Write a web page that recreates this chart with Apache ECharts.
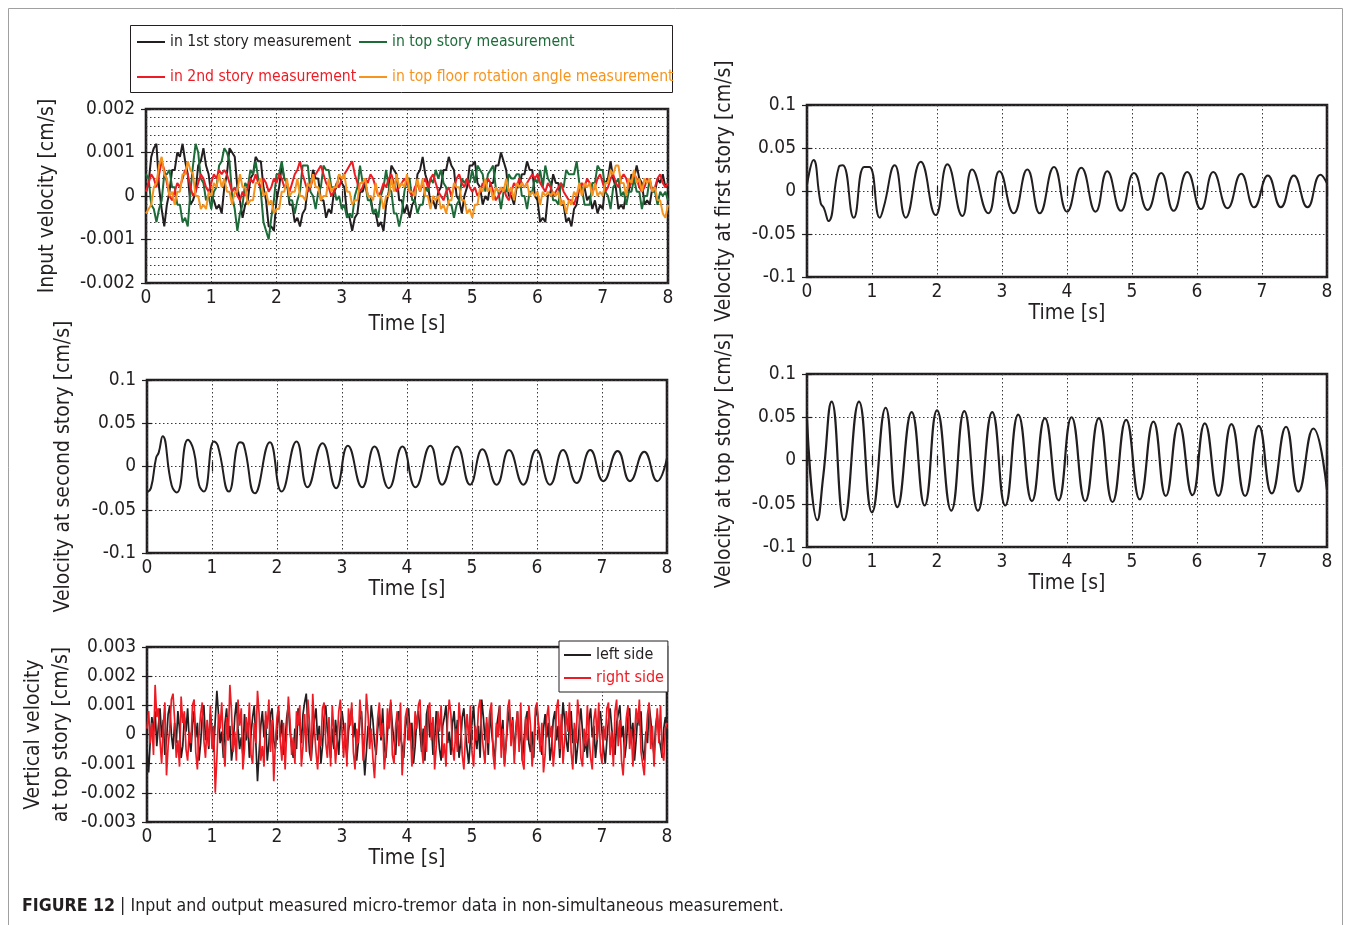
<!DOCTYPE html>
<html><head><meta charset="utf-8">
<script src="https://cdn.jsdelivr.net/npm/echarts/dist/echarts.min.js"></script>
<style>html,body{margin:0;padding:0;background:#fff}#c{width:1352px;height:925px}</style>
</head><body><div id="c"></div>
<script>
// ---------- DATA ----------
// Panel 1: input velocity, sampled every 0.04 s, values in units of 1e-4 cm/s
const inputDt = 0.04;
const firstStoryInput = [
1,3,9,11,12,2,-3,-7,-2,1,6,6,10,9,12,8,5,-2,-1,1,7,8,11,7,5,
0,-1,-3,-2,-4,2,5,11,10,9,2,-1,-5,-2,-1,4,5,9,8,8,2,-1,-7,-7,-8,
-1,2,7,4,3,-2,-2,-6,-5,-7,-4,-3,2,2,6,4,4,-1,-1,-5,-3,-4,1,2,5,
3,2,-4,-5,-8,-5,-4,1,1,3,0,0,-4,-4,-7,-6,-8,-2,1,7,6,5,-1,-1,-4,
-2,-5,-2,-1,5,6,9,5,3,-2,-1,-3,1,2,6,6,9,7,6,0,-1,-4,0,2,7,
7,8,3,2,-2,0,-1,3,3,7,7,10,8,6,0,0,-2,2,2,5,5,8,6,6,0,
-1,-6,-5,-6,0,1,5,3,3,-2,-2,-6,-5,-7,-3,-2,2,1,2,-1,0,-3,-1,-4,-2,
-3,3,4,8,4,2,-3,-2,-3,1,1,5,4,7,4,3,-2,-1,-2,2,1,4,3,5,2,
3];
const topStoryInput = [
5,4,-2,-3,-6,-3,-1,5,5,6,2,2,-2,-2,-6,-5,-7,1,7,12,10,4,3,-1,0,
-3,1,2,7,8,11,10,8,0,-3,-8,-4,-2,3,2,6,5,8,4,1,-6,-8,-10,-5,-1,
5,5,8,4,3,-1,-1,-4,-1,1,7,7,7,1,0,-3,1,2,7,6,6,2,2,-1,0,
-3,-2,-5,-4,-5,0,2,7,3,3,-1,-1,-4,-3,-5,0,2,6,2,1,-4,-4,-7,-4,1,
4,4,-1,-1,-4,-2,-2,2,1,4,3,6,4,6,3,2,-2,-2,-5,-2,-1,4,3,4,3,
6,3,7,6,5,1,5,6,7,2,1,-3,1,1,5,4,4,5,5,0,0,-3,1,1,4,
3,6,2,7,4,3,-1,-1,-2,3,2,6,5,5,5,8,3,2,-2,-2,-2,3,3,7,6,
6,1,0,-3,2,3,4,0,1,-2,1,1,4,1,1,-3,0,0,4,1,1,-2,1,0,1,
-1];
const secondStoryInput = [
1,3,5,4,2,5,8,6,3,0,-1,1,3,2,4,6,5,2,0,1,3,5,4,2,1,
3,5,4,6,5,6,5,3,1,2,0,-1,1,0,2,4,3,5,3,2,4,3,1,2,4,
3,5,4,2,3,1,3,5,6,8,5,3,1,2,4,5,6,7,5,3,2,0,1,3,2,
4,5,6,7,8,5,3,1,2,4,3,5,4,2,0,1,3,2,4,5,3,1,2,3,4,
3,1,0,2,3,1,3,4,2,4,5,3,1,0,-1,1,2,0,2,4,5,3,2,4,2,
1,2,0,1,3,2,4,3,1,-1,0,1,2,0,-1,1,3,2,4,3,2,3,4,5,4,
5,3,2,1,3,2,0,1,2,3,1,0,-1,-1,-2,0,2,3,2,4,3,1,2,4,5,
3,1,2,4,5,3,2,4,5,4,2,3,5,4,2,1,2,4,3,1,2,4,5,3,2,
3];
const rotationInput = [
-4,-3,-2,2,3,7,9,5,4,0,1,-2,1,1,5,5,8,6,5,0,0,-3,-2,-3,1,
0,3,2,5,2,4,1,1,-2,1,1,5,2,2,-2,-1,-1,3,3,4,0,1,-2,-1,-4,
-3,-3,1,1,4,0,1,1,4,0,0,-1,3,2,5,2,2,-1,0,0,4,1,2,2,5,
4,5,1,1,-2,-1,-1,3,3,4,0,0,-1,3,0,0,-3,0,0,4,1,5,2,3,2,
5,1,1,0,4,1,4,0,0,-3,0,-1,0,-3,-2,-4,-1,-1,3,2,2,-1,-1,-4,-3,
-5,-2,-2,2,1,4,1,2,-1,2,1,2,1,4,1,2,-1,3,2,3,2,3,0,1,0,
1,-2,1,0,1,0,1,0,1,-2,-1,-4,-1,-2,1,0,3,0,3,2,3,0,3,0,1,
0,3,3,6,5,7,7,3,3,0,4,3,6,3,4,1,4,3,4,1,2,-1,-1,-4,-5,
-2];

// Panels 2-4: velocity extrema (time s, velocity cm/s)
const firstStoryT = [0,0.10,0.21,0.26,0.33,0.49,0.55,0.72,0.88,0.96,1.12,1.18,1.35,1.52,1.75,1.98,2.16,2.39,2.54,2.79,2.96,3.18,3.39,3.58,3.80,4.00,4.22,4.44,4.62,4.83,5.03,5.24,5.45,5.64,5.85,6.06,6.25,6.47,6.68,6.88,7.09,7.29,7.49,7.70,7.90,8.00];
const firstStoryV = [0.007,0.036,-0.014,-0.020,-0.035,0.028,0.030,-0.031,0.028,0.028,-0.031,-0.019,0.030,-0.031,0.034,-0.028,0.031,-0.029,0.025,-0.026,0.023,-0.026,0.025,-0.026,0.028,-0.024,0.027,-0.024,0.023,-0.023,0.021,-0.022,0.021,-0.023,0.022,-0.021,0.022,-0.020,0.020,-0.019,0.018,-0.019,0.018,-0.019,0.019,0.009];

const secondStoryT = [0,0.06,0.14,0.18,0.24,0.38,0.46,0.63,0.72,0.80,0.875,1.03,1.09,1.26,1.43,1.49,1.66,1.89,2.07,2.30,2.47,2.70,2.91,3.09,3.31,3.50,3.72,3.93,4.13,4.36,4.54,4.77,4.97,5.16,5.38,5.57,5.79,5.99,6.20,6.40,6.61,6.82,7.02,7.24,7.43,7.65,7.85,8.00];
const secondStoryV = [-0.030,-0.025,0.010,0.016,0.035,-0.022,-0.030,0.031,0.018,-0.021,-0.029,0.029,0.024,-0.029,0.028,0.025,-0.031,0.028,-0.029,0.029,-0.024,0.027,-0.025,0.024,-0.024,0.023,-0.025,0.023,-0.024,0.024,-0.021,0.023,-0.021,0.020,-0.021,0.019,-0.021,0.019,-0.021,0.019,-0.019,0.019,-0.017,0.018,-0.017,0.017,-0.017,0.010];

const topStoryT = [0,0.16,0.25,0.38,0.57,0.80,1.00,1.21,1.39,1.61,1.81,2.00,2.22,2.42,2.63,2.85,3.05,3.25,3.46,3.66,3.87,4.07,4.28,4.49,4.70,4.91,5.12,5.33,5.52,5.72,5.93,6.12,6.33,6.53,6.74,6.95,7.15,7.37,7.56,7.79,8.00];
const topStoryV = [0.047,-0.069,-0.018,0.068,-0.069,0.068,-0.060,0.061,-0.054,0.056,-0.052,0.058,-0.058,0.057,-0.058,0.056,-0.052,0.053,-0.047,0.049,-0.046,0.050,-0.047,0.049,-0.048,0.047,-0.045,0.045,-0.041,0.043,-0.040,0.043,-0.041,0.042,-0.041,0.040,-0.038,0.039,-0.036,0.037,-0.034];

// Panel 5: vertical velocity at top story, sampled every 0.025 s, units of 1e-4 cm/s
const verticalDt = 0.025;
const leftSide = [
-5,-13,-2,6,1,8,-4,3,9,-1,5,-7,-2,7,10,0,-5,4,-3,8,2,-8,-4,6,1,9,-2,-6,3,8,-1,4,-9,-3,6,10,-2,2,-5,7,
2,-6,5,15,7,-3,1,-8,4,9,-2,3,-9,-4,6,11,2,-5,-1,-7,7,-2,4,-8,0,6,10,-3,-16,-6,3,8,-1,5,-9,-3,7,9,-2,-5,
3,8,-1,5,-7,-2,6,10,1,-4,-8,2,-5,9,4,-3,7,11,14,3,-6,-9,-1,5,9,-2,3,-10,-4,6,10,1,-3,-8,2,-5,5,-1,-7,4,
8,3,-2,-8,1,6,9,-1,4,-9,-3,5,8,-4,-14,-6,3,-1,10,5,-3,-7,2,7,-2,9,-4,-8,1,6,11,3,-2,-7,4,8,-1,-4,-8,2,
6,9,-2,4,-10,-4,5,8,1,-6,2,-9,7,10,-1,4,-7,-2,8,2,-5,-9,3,6,10,-3,1,-7,4,8,-2,5,-8,-3,6,9,1,-5,-10,-2,
4,10,-1,-5,3,-8,12,6,-2,4,-7,8,1,-4,-9,2,6,10,-3,5,-10,-3,4,9,-1,6,-7,2,8,-4,3,-9,-2,5,8,-3,-6,1,-8,6,
9,3,-3,-7,2,7,-1,4,-9,-4,5,8,-2,3,-8,1,11,5,-2,-6,4,8,-3,2,-10,-4,3,9,1,-6,-2,-8,5,9,-1,3,-8,-2,6,8,
1,-5,-10,-2,5,9,2,-3,-7,4,7,10,-1,3,-8,-3,6,9,-2,4,-9,-2,7,3,8,-5,-9,1,-3,10,5,-2,-7,3,7,-1,-4,-8,2,6,
3];
const rightSide = [
2,8,-3,4,-7,17,6,9,-2,-10,3,11,-14,-4,2,12,14,5,-8,-2,-11,13,4,8,-5,-9,1,-3,10,12,-6,-12,0,7,11,-2,-8,5,-4,10,
-5,3,-20,-8,7,2,11,-4,-11,6,-2,17,8,-6,1,-9,12,3,9,-12,-5,6,-1,11,-7,-10,4,-3,15,7,-9,-4,-11,8,2,12,-6,5,-16,-3,
6,10,-2,-9,4,-12,1,13,5,-7,-1,-10,8,3,10,-11,-4,7,-6,12,4,-9,14,2,-6,-12,0,-4,9,11,-3,-8,6,-11,10,1,-10,-2,8,12,
1,-8,4,-11,9,3,11,-6,-12,2,-3,12,5,-9,-2,14,7,-5,2,-8,-15,-3,6,11,-1,4,-12,-6,9,2,12,-7,-10,3,8,-4,11,-14,-5,6,
9,-2,4,-11,-5,8,2,10,12,-4,-10,3,-6,9,11,-2,6,-12,-4,8,1,10,-8,-3,-11,5,12,7,-4,-9,2,-6,11,4,-7,-12,0,7,-3,10,
-6,-11,3,-2,9,12,1,-5,-10,6,-3,8,11,-7,-12,4,-1,10,-8,2,-11,-3,9,12,-4,5,-10,1,8,-6,11,-9,-12,6,-2,10,3,-11,-4,9,
11,2,-6,4,-13,-7,6,10,-1,3,-11,-4,9,12,-5,7,-10,-2,8,1,11,-6,-12,4,-3,12,6,-8,-11,2,-4,10,-1,-8,-12,5,9,-2,11,-6,
-10,3,-2,9,11,-7,1,-11,8,12,-4,5,-9,-14,-3,6,10,-5,2,-11,-1,9,4,12,-6,-10,-14,-2,7,11,-5,3,-11,0,9,-3,10,-6,-9,2,
4];
const smallUnit = 1e-4;

const xLabel = 'Time [s]';
const yLabels = ['Input velocity [cm/s]','Velocity at first story [cm/s]','Velocity at second story [cm/s]','Velocity at top story [cm/s]','Vertical velocity\nat top story [cm/s]'];
const inputNames = ['in 1st story measurement','in top story measurement','in 2nd story measurement','in top floor rotation angle measurement'];
const verticalNames = ['left side','right side'];
const caption = 'Input and output measured micro-tremor data in non-simultaneous measurement.';

// ---------- CHART ----------
const FONT = '"Liberation Sans Narrow","DejaVu Sans Condensed","Arial Narrow",sans-serif';
const INK = '#231f20';
const C = {black:'#231f20', green:'#1d6b38', red:'#ed1c24', orange:'#f7941d'};

const grids = [
  {left:146, top:109, width:522, height:174},
  {left:807, top:105, width:520, height:172},
  {left:147, top:380, width:520, height:173},
  {left:807, top:374, width:520, height:173},
  {left:147, top:647, width:520, height:175}
];
const yRanges = [
  {min:-0.002, max:0.002, interval:0.001},
  {min:-0.1, max:0.1, interval:0.05},
  {min:-0.1, max:0.1, interval:0.05},
  {min:-0.1, max:0.1, interval:0.05},
  {min:-0.003, max:0.003, interval:0.001}
];
const yNameGaps = [84, 68, 69, 68, 71];
const xNameGaps = [31, 25, 25, 24, 23];

const dotted = {type:[1.5,2.5], color:'#3a3a3a', width:1};
const tickStyle = {color:INK, width:1.2};
const fmt = v => Math.abs(v) < 1e-12 ? '0' : String(+v.toFixed(4));
const TICK_FS = 19, NAME_FS = 21;

const xAxis = [], yAxis = [];
grids.forEach((g, i) => {
  xAxis.push({gridIndex:i, type:'value', min:0, max:8, interval:1, position:'bottom',
    axisLine:{show:false}, axisTick:{inside:true, length:5, lineStyle:tickStyle},
    axisLabel:{fontSize:TICK_FS, margin:6, color:INK, fontFamily:FONT},
    splitLine:{show:true, lineStyle:dotted},
    name:xLabel, nameLocation:'middle', nameGap:xNameGaps[i],
    nameTextStyle:{fontSize:NAME_FS, color:INK, fontFamily:FONT}});
  xAxis.push({gridIndex:i, type:'value', min:0, max:8, interval:1, position:'top',
    axisLine:{show:false}, axisTick:{inside:true, length:5, lineStyle:tickStyle},
    axisLabel:{show:false}, splitLine:{show:false}});
  const r = yRanges[i];
  const y = {gridIndex:i, type:'value', min:r.min, max:r.max, interval:r.interval, position:'left',
    axisLine:{show:false}, axisTick:{inside:true, length:5, lineStyle:tickStyle},
    axisLabel:{fontSize:TICK_FS, margin:11, color:INK, fontFamily:FONT, formatter:fmt},
    splitLine:{show:true, lineStyle:dotted},
    name:yLabels[i], nameLocation:'middle', nameGap:yNameGaps[i], nameRotate:90,
    nameTextStyle:{fontSize:NAME_FS, color:INK, fontFamily:FONT, lineHeight:28}};
  if (i === 0) {
    y.minorTick = {show:false, splitNumber:5};
    y.minorSplitLine = {show:true, lineStyle:dotted};
  }
  yAxis.push(y);
  yAxis.push({gridIndex:i, type:'value', min:r.min, max:r.max, interval:r.interval, position:'right',
    axisLine:{show:false}, axisTick:{inside:true, length:5, lineStyle:tickStyle},
    axisLabel:{show:false}, splitLine:{show:false}});
});

const sampled = (vals, dt) => vals.map((v, k) => [+(k*dt).toFixed(3), v*smallUnit]);
const paired = (ts, vs) => ts.map((t, k) => [t, vs[k]]);

const lineSeries = (name, data, grid, color, width, smooth) => ({
  name, type:'line', data, xAxisIndex:grid*2, yAxisIndex:grid*2, symbol:'none',
  smooth: smooth ? 0.5 : false, lineStyle:{color, width}, itemStyle:{color},
  emphasis:{disabled:true}, z:3
});

const series = [
  lineSeries(inputNames[0], sampled(firstStoryInput, inputDt), 0, C.black, 2, false),
  lineSeries(inputNames[1], sampled(topStoryInput, inputDt), 0, C.green, 2, false),
  lineSeries(inputNames[2], sampled(secondStoryInput, inputDt), 0, C.red, 2, false),
  lineSeries(inputNames[3], sampled(rotationInput, inputDt), 0, C.orange, 2, false),
  lineSeries('first story', paired(firstStoryT, firstStoryV), 1, C.black, 2, true),
  lineSeries('second story', paired(secondStoryT, secondStoryV), 2, C.black, 2, true),
  lineSeries('top story', paired(topStoryT, topStoryV), 3, C.black, 2.2, true),
  lineSeries(verticalNames[0], sampled(leftSide, verticalDt), 4, C.black, 1.7, false),
  lineSeries(verticalNames[1], sampled(rightSide, verticalDt), 4, C.red, 1.7, false)
];

const legendText = {fontSize:15.6, fontFamily:FONT, lineHeight:20};
const option = {
  animation:false,
  backgroundColor:'#fff',
  grid: grids.map(g => Object.assign({show:true, borderColor:INK, borderWidth:2.6, backgroundColor:'transparent', containLabel:false}, g)),
  xAxis, yAxis, series,
  legend: [
    {left:137, top:32, orient:'vertical', padding:0, itemGap:15, itemWidth:28, itemHeight:2, icon:'rect', selectedMode:false,
     textStyle:legendText,
     data:[{name:inputNames[0], textStyle:{color:C.black}}, {name:inputNames[2], textStyle:{color:C.red}}]},
    {left:359, top:32, orient:'vertical', padding:0, itemGap:15, itemWidth:28, itemHeight:2, icon:'rect', selectedMode:false,
     textStyle:legendText,
     data:[{name:inputNames[1], textStyle:{color:C.green}}, {name:inputNames[3], textStyle:{color:C.orange}}]},
    {left:559, top:641, orient:'vertical', padding:[4,4,4,5], itemGap:3, itemWidth:27, itemHeight:2, icon:'rect', selectedMode:false,
     backgroundColor:'#fff', borderColor:INK, borderWidth:1, z:10,
     textStyle:{fontSize:16, fontFamily:FONT, lineHeight:20},
     data:[{name:verticalNames[0], textStyle:{color:C.black}}, {name:verticalNames[1], textStyle:{color:C.red}}]}
  ],
  graphic: [
    {type:'rect', silent:true, z:-10, shape:{x:8.5, y:8.5, width:1334, height:950}, style:{fill:'none', stroke:'#a0a0a0', lineWidth:1}},
    {type:'rect', silent:true, z:1, shape:{x:130.5, y:25.5, width:542, height:67}, style:{fill:'none', stroke:INK, lineWidth:1}},
    {type:'text', left:22, top:897, silent:true,
     style:{text:'{b|FIGURE 12} | ' + caption, fill:INK, fontSize:17.6, fontFamily:FONT,
       rich:{b:{fontWeight:'bold', fontSize:17.6, fontFamily:FONT, fill:INK}}}}
  ]
};
const chart = echarts.init(document.getElementById('c'), null, {renderer:'canvas'});
chart.setOption(option);
</script>
</body></html>
